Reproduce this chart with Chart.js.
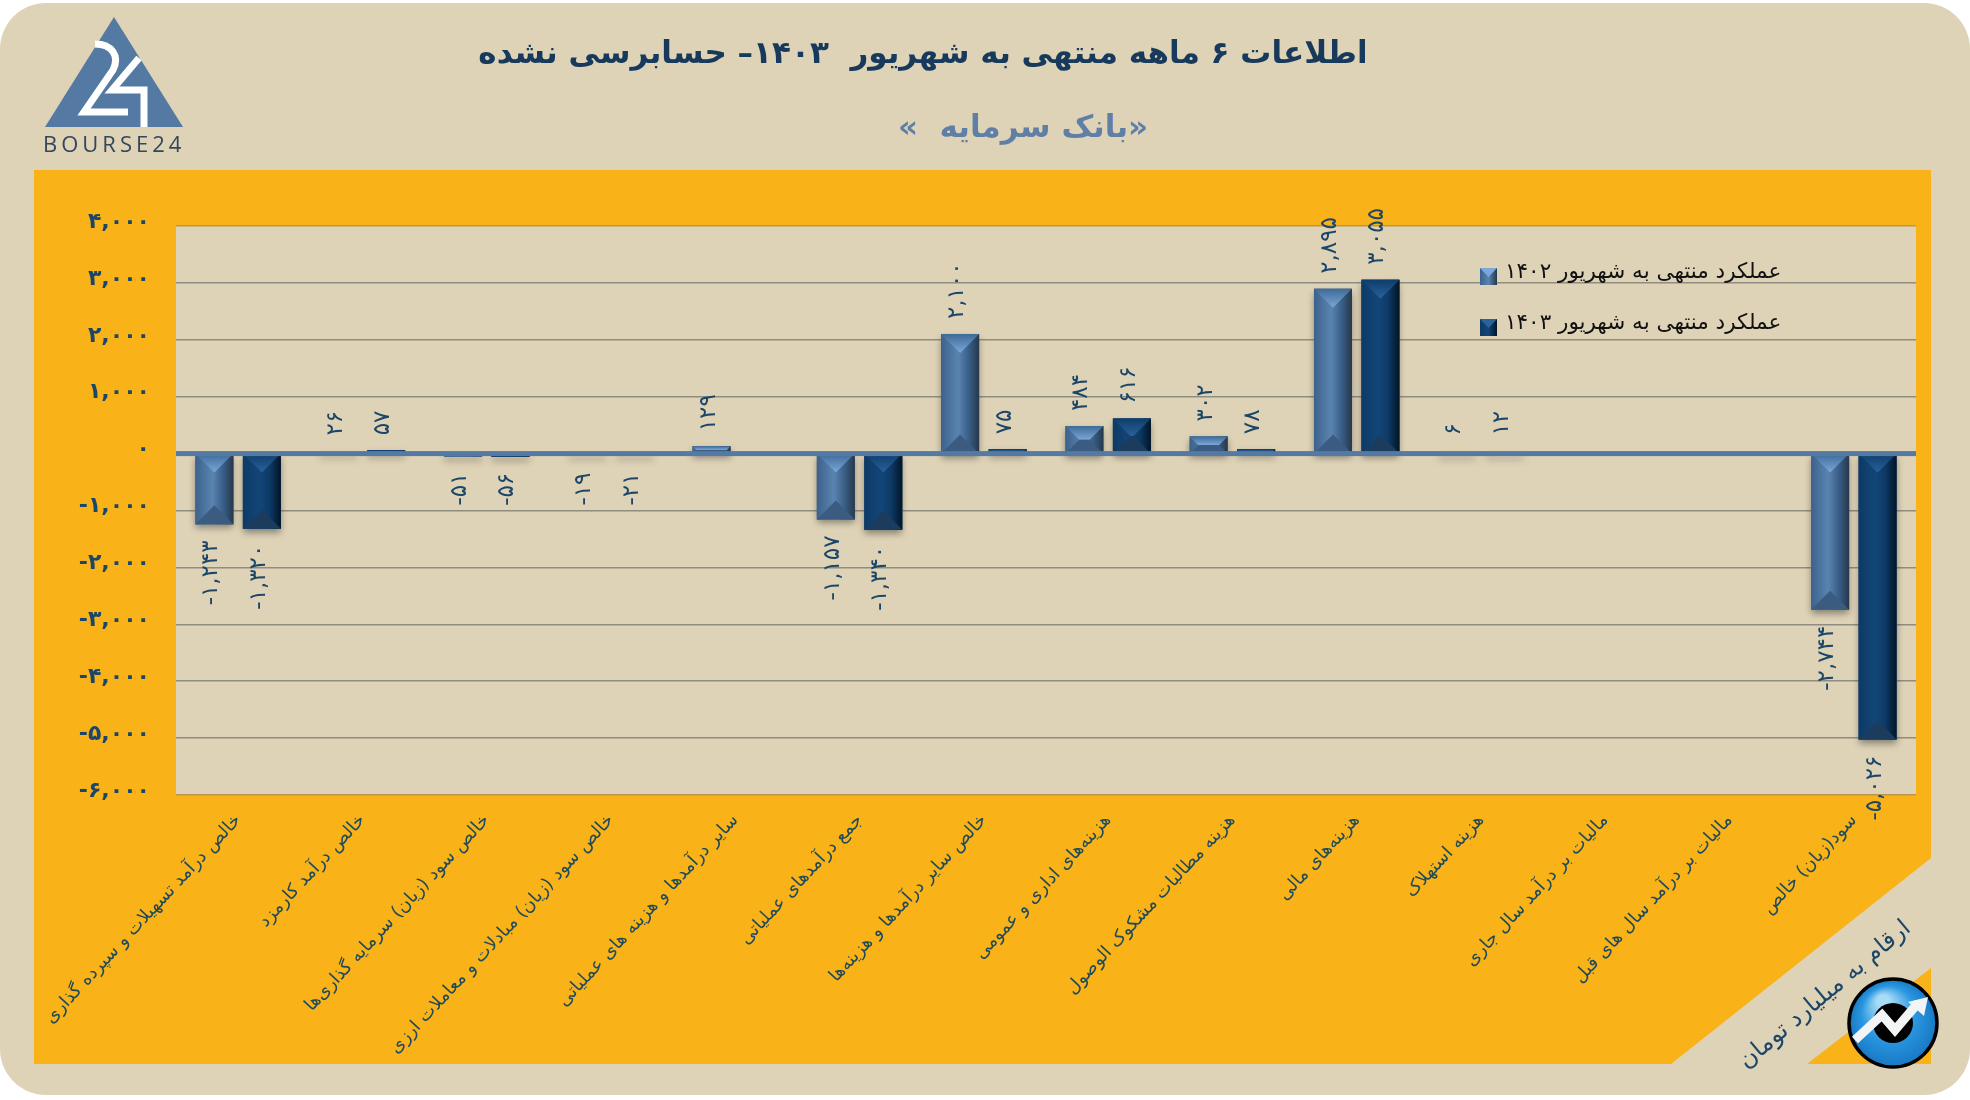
<!DOCTYPE html>
<html lang="fa">
<head>
<meta charset="utf-8">
<title>بانک سرمایه</title>
<script src="https://cdn.jsdelivr.net/npm/chart.js@4"></script>
<style>
  html, body { margin: 0; background: #fff; }
  canvas { display: block; }
</style>
</head>
<body>
<canvas id="reportChart" width="1970" height="1100"></canvas>
<script>
// Values (billion toman)
const categories = [
    'خالص درآمد تسهیلات و سپرده گذاری',
    'خالص درآمد کارمزد',
    'خالص سود (زیان) سرمایه گذاری‌ها',
    'خالص سود (زیان) مبادلات و معاملات ارزی',
    'سایر درآمدها و هزینه های عملیاتی',
    'جمع درآمدهای عملیاتی',
    'خالص سایر درآمدها و هزینه‌ها',
    'هزینه‌های اداری و عمومی',
    'هزینه مطالبات مشکوک الوصول',
    'هزینه‌های مالی',
    'هزینه استهلاک',
    'مالیات بر درآمد سال جاری',
    'مالیات بر درآمد سال های قبل',
    'سود(زیان) خالص'
];
const values1402 = [-1243, 26, -51, -19, 129, -1157, 2100, 484, 302, 2895, 6, null, null, -2744];
const values1403 = [-1320, 57, -56, -21, null, -1340, 75, 616, 78, 3055, 12, null, null, -5026];
const seriesNames = ['عملکرد منتهی به شهریور ۱۴۰۲', 'عملکرد منتهی به شهریور ۱۴۰۳'];
const titleText = 'اطلاعات ۶ ماهه منتهی به شهریور  ۱۴۰۳– حسابرسی نشده';
const subtitleText = '«بانک سرمایه  »';
const unitText = 'ارقام به میلیارد تومان';
const brandText = 'BOURSE24';

const TAN = '#dfd3b7';
const ORANGE = '#f9b218';
const NAVY = '#1b4668';
const FONT = '"DejaVu Sans", sans-serif';

// Colours of the bevelled bars, one set per series
const barShades = [
    { left: '#3c628c', mid: '#5a84b0', right: '#26384c', top: '#7ba8d8', topEdge: '#3f6a98', bottom: '#3b5c80' },
    { left: '#0d3a66', mid: '#124678', right: '#021526', top: '#2a629a', topEdge: '#0f3d6c', bottom: '#1c3c5e' }
];

// Western digits to Persian digits, with the thousands comma
function toPersian(n) {
    return n.toLocaleString('en-US').replace(/\d/g, d => '۰۱۲۳۴۵۶۷۸۹'[d]);
}

function roundedPanel(ctx, x, y, w, h, r) {
    ctx.beginPath();
    ctx.roundRect(x, y, w, h, r);
    ctx.fill();
}

function poly(ctx, pts, fill) {
    ctx.beginPath();
    pts.forEach((p, i) => i ? ctx.lineTo(p[0], p[1]) : ctx.moveTo(p[0], p[1]));
    ctx.closePath();
    ctx.fillStyle = fill;
    ctx.fill();
}

function drawBrand(ctx) {
    poly(ctx, [[114, 17], [183, 127], [45, 127]], '#5479a3');
    ctx.save();
    ctx.strokeStyle = '#fff';
    ctx.lineWidth = 7;
    ctx.lineJoin = 'miter';
    ctx.beginPath();
    ctx.moveTo(95, 44);
    ctx.bezierCurveTo(112, 44, 120, 56, 113, 70);
    ctx.lineTo(84, 112);
    ctx.lineTo(128, 112);
    ctx.stroke();
    ctx.beginPath();
    ctx.moveTo(139, 58);
    ctx.lineTo(112, 90);
    ctx.lineTo(144, 90);
    ctx.lineTo(144, 127);
    ctx.stroke();
    ctx.restore();
    ctx.save();
    ctx.fillStyle = '#33475b';
    ctx.font = '22px "Open Sans", sans-serif';
    ctx.letterSpacing = '4px';
    ctx.textAlign = 'left';
    ctx.textBaseline = 'middle';
    ctx.fillText(brandText, 43, 146);
    ctx.restore();
}

function drawBadge(ctx) {
    const cx = 1893, cy = 1023, r = 44;
    const g = ctx.createRadialGradient(cx - 10, cy - 22, 6, cx, cy, r);
    g.addColorStop(0, '#a8dcf6');
    g.addColorStop(0.55, '#2a97e0');
    g.addColorStop(1, '#1878c4');
    ctx.save();
    ctx.beginPath();
    ctx.arc(cx, cy, r, 0, Math.PI * 2);
    ctx.fillStyle = g;
    ctx.fill();
    ctx.lineWidth = 3.5;
    ctx.strokeStyle = '#000';
    ctx.stroke();
    ctx.beginPath();
    ctx.arc(cx, cy, 20, 0, Math.PI * 2);
    ctx.fillStyle = '#000';
    ctx.fill();
    ctx.strokeStyle = '#f2f4f5';
    ctx.lineWidth = 9;
    ctx.lineJoin = 'miter';
    ctx.beginPath();
    ctx.moveTo(1855, 1040);
    ctx.lineTo(1882, 1015);
    ctx.lineTo(1895, 1030);
    ctx.lineTo(1918, 1003);
    ctx.stroke();
    poly(ctx, [[1928, 997], [1924, 1016], [1908, 1002]], '#f2f4f5');
    ctx.restore();
}

// Paints the page furniture behind the chart and the texts around it
const framePlugin = {
    id: 'frame',
    beforeDraw(chart) {
        const { ctx, chartArea: a } = chart;
        ctx.save();
        ctx.fillStyle = '#fff';
        ctx.fillRect(0, 0, 1970, 1100);
        ctx.fillStyle = TAN;
        roundedPanel(ctx, 0, 3, 1970, 1092, 46);
        ctx.fillStyle = ORANGE;
        ctx.fillRect(34, 170, 1897, 894);
        // diagonal cut at the bottom right
        poly(ctx, [[1671, 1064], [1931, 858], [1931, 1064]], TAN);
        poly(ctx, [[1807, 1064], [1931, 968], [1931, 1064]], ORANGE);
        ctx.fillStyle = TAN;
        ctx.fillRect(a.left, a.top, a.right - a.left, a.bottom - a.top);
        drawBrand(ctx);

        ctx.direction = 'rtl';
        ctx.textAlign = 'center';
        ctx.textBaseline = 'middle';
        ctx.fillStyle = '#17395c';
        ctx.font = 'bold 31px ' + FONT;
        ctx.fillText(titleText, 923, 55);
        ctx.fillStyle = '#5f7fa6';
        ctx.font = 'bold 31px ' + FONT;
        ctx.fillText(subtitleText, 1023, 129);
        ctx.restore();
    },
    beforeDatasetsDraw(chart) {
        // soft shadow below every bar, tiny ones included
        const { ctx } = chart;
        const zero = chart.scales.y.getPixelForValue(0);
        ctx.save();
        ctx.shadowColor = 'rgba(40,40,40,0.55)';
        ctx.shadowBlur = 7;
        ctx.shadowOffsetY = 4;
        ctx.fillStyle = 'rgba(120,120,120,0.9)';
        chart.data.datasets.forEach((ds, i) => {
            chart.getDatasetMeta(i).data.forEach((bar, j) => {
                if (ds.data[j] === null) return;
                const top = Math.min(bar.y, zero), bottom = Math.max(bar.y, zero);
                ctx.fillRect(bar.x - bar.width / 2, top, bar.width, Math.max(bottom - top, 2));
            });
        });
        ctx.restore();
    },
    afterDatasetsDraw(chart) {
        const { ctx, chartArea: a } = chart;
        const zero = chart.scales.y.getPixelForValue(0);
        chart.data.datasets.forEach((ds, i) => {
            const s = barShades[i];
            chart.getDatasetMeta(i).data.forEach((bar, j) => {
                const v = ds.data[j];
                if (v === null) return;
                const x0 = bar.x - bar.width / 2, x1 = bar.x + bar.width / 2;
                const top = Math.min(bar.y, zero), bottom = Math.max(bar.y, zero);
                const h = bottom - top, w = bar.width;

                const body = ctx.createLinearGradient(x0, 0, x1, 0);
                body.addColorStop(0, s.left);
                body.addColorStop(0.45, s.mid);
                body.addColorStop(0.7, s.left);
                body.addColorStop(1, s.right);
                ctx.fillStyle = body;
                ctx.fillRect(x0, top, w, h);

                // bevel: lit cap at the top, darker cap at the bottom
                const d = Math.min(w / 2, h / 2);
                const inset = w / 2 - d;
                const capG = ctx.createLinearGradient(0, top, 0, top + d);
                capG.addColorStop(0, s.topEdge);
                capG.addColorStop(1, s.top);
                poly(ctx, [[x0, top], [x1, top], [bar.x + inset, top + d], [bar.x - inset, top + d]], capG);
                poly(ctx, [[x0, bottom], [x1, bottom], [bar.x + inset, bottom - d], [bar.x - inset, bottom - d]], s.bottom);
            });
        });

        // thick zero line sits on top of the bars
        ctx.fillStyle = '#5479a3';
        ctx.fillRect(a.left, zero - 2.5, a.right - a.left, 5);

        // value labels, rotated to read upwards
        ctx.save();
        ctx.font = '23px ' + FONT;
        ctx.fillStyle = NAVY;
        ctx.textBaseline = 'middle';
        chart.data.datasets.forEach((ds, i) => {
            chart.getDatasetMeta(i).data.forEach((bar, j) => {
                const v = ds.data[j];
                if (v === null) return;
                const end = v < 0 ? Math.max(bar.y, zero + 3) + 16 : Math.min(bar.y, zero - 3) - 15;
                ctx.save();
                ctx.translate(bar.x - 3, end);
                ctx.rotate(-Math.PI / 2);
                ctx.textAlign = v < 0 ? 'right' : 'left';
                ctx.fillText(toPersian(v), 0, 0);
                ctx.restore();
            });
        });
        ctx.restore();

        // legend
        const legendY = [276, 327];
        ctx.save();
        ctx.direction = 'rtl';
        ctx.textBaseline = 'middle';
        ctx.textAlign = 'left';
        ctx.font = '21.5px ' + FONT;
        chart.data.datasets.forEach((ds, i) => {
            const s = barShades[i];
            const y = legendY[i];
            const g = ctx.createLinearGradient(1480, 0, 1497, 0);
            g.addColorStop(0, s.left);
            g.addColorStop(0.5, s.mid);
            g.addColorStop(1, s.right);
            ctx.fillStyle = g;
            ctx.fillRect(1480, y - 8, 17, 17);
            poly(ctx, [[1480, y - 8], [1497, y - 8], [1488.5, y + 1]], s.top);
            ctx.fillStyle = '#111';
            ctx.fillText(ds.label, 1505, y - 4);
        });
        ctx.restore();
    },
    afterDraw(chart) {
        const { ctx } = chart;
        ctx.save();
        ctx.translate(1825, 995);
        ctx.rotate(-40 * Math.PI / 180);
        ctx.direction = 'rtl';
        ctx.textAlign = 'center';
        ctx.textBaseline = 'middle';
        ctx.fillStyle = NAVY;
        ctx.font = '24px ' + FONT;
        ctx.fillText(unitText, 0, 0);
        ctx.restore();
        drawBadge(ctx);
    }
};

const ctx = document.getElementById('reportChart').getContext('2d');
const reportChart = new Chart(ctx, {
    type: 'bar',
    data: {
        labels: categories,
        datasets: [
            { label: seriesNames[0], data: values1402, backgroundColor: '#4a7099' },
            { label: seriesNames[1], data: values1403, backgroundColor: '#0f3d6c' }
        ]
    },
    options: {
        responsive: false,
        animation: false,
        layout: { padding: { left: 0, right: 54, top: 226, bottom: 0 } },
        categoryPercentage: 0.764,
        barPercentage: 0.8,
        plugins: { legend: { display: false }, tooltip: { enabled: false } },
        scales: {
            x: {
                grid: { display: false, drawTicks: false },
                border: { display: false },
                ticks: {
                    autoSkip: false,
                    minRotation: 47,
                    maxRotation: 47,
                    padding: 15,
                    color: '#1e4a5a',
                    font: { family: FONT, size: 18 }
                },
                afterFit(scale) {
                    scale.height = 305;
                    scale.paddingLeft = 0;
                    scale.paddingRight = 0;
                }
            },
            y: {
                min: -6000,
                max: 4000,
                grid: {
                    drawTicks: false,
                    lineWidth: 1.5,
                    color: c => (c.tick.value === 4000 || c.tick.value === -6000) ? '#b8964e' : '#8f8c80'
                },
                border: { display: false },
                ticks: {
                    stepSize: 1000,
                    padding: 26,
                    color: NAVY,
                    // empty second line lifts the label 4px above its gridline
                    font: { family: FONT, size: 22, weight: 'bold', lineHeight: '8px' },
                    callback: v => [toPersian(v), '']
                },
                afterFit(scale) {
                    scale.width = 176;
                }
            }
        }
    },
    plugins: [framePlugin]
});
</script>
</body>
</html>
